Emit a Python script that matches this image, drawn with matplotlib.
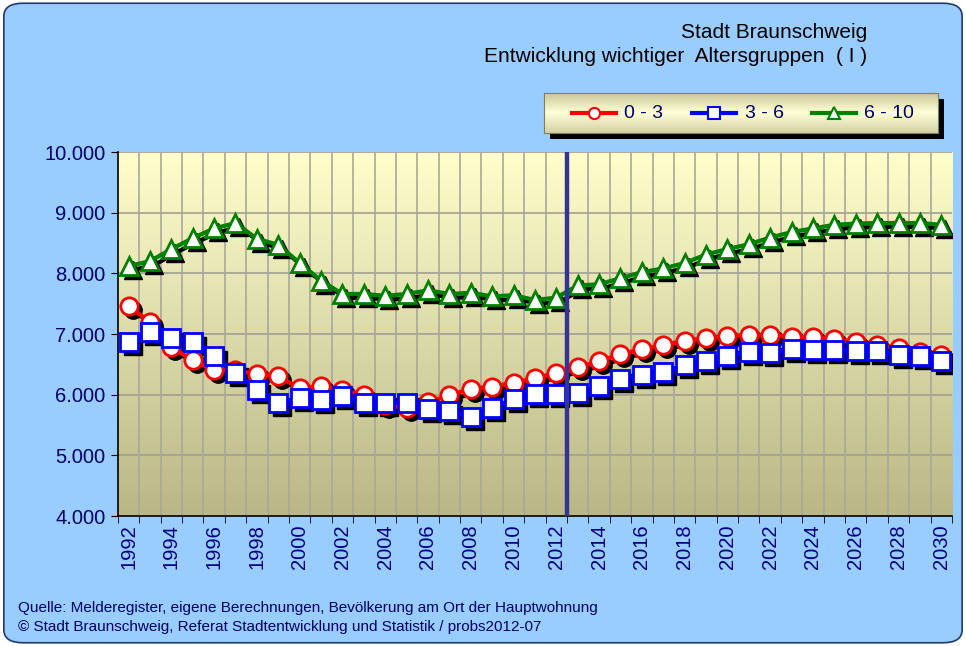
import numpy as np
import matplotlib
matplotlib.use("Agg")
import matplotlib.pyplot as plt
import matplotlib.transforms as mtransforms
from matplotlib.patches import FancyBboxPatch, Rectangle
from matplotlib.ticker import FuncFormatter, MultipleLocator
from matplotlib.lines import Line2D

plt.rcParams['font.family'] = ['Liberation Sans', 'DejaVu Sans']

years = list(range(1992, 2031))
age_0_3 = [7460, 7200, 6780, 6570, 6400, 6400, 6340, 6300, 6110, 6140,
           6070, 6000, 5830, 5780, 5880, 5990, 6100, 6130, 6200, 6270,
           6360, 6450, 6550, 6670, 6750, 6820, 6890, 6930, 6970, 6985,
           6985, 6950, 6950, 6910, 6870, 6820, 6770, 6700, 6650]
age_3_6 = [6870, 7030, 6930, 6870, 6640, 6360, 6070, 5860, 5950, 5920,
           5980, 5870, 5870, 5870, 5760, 5730, 5630, 5780, 5930, 6010,
           6010, 6020, 6140, 6260, 6320, 6380, 6490, 6550, 6640, 6700,
           6690, 6750, 6740, 6740, 6720, 6720, 6650, 6640, 6550]
age_6_10 = [8120, 8200, 8400, 8580, 8740, 8830, 8570, 8470, 8170, 7880,
            7660, 7660, 7630, 7660, 7720, 7660, 7680, 7620, 7640, 7560,
            7600, 7800, 7820, 7920, 8020, 8080, 8170, 8310, 8400, 8480,
            8590, 8680, 8740, 8800, 8820, 8830, 8830, 8830, 8800]
series = [("0 - 3", age_0_3, "#FF0000", "o"),
          ("3 - 6", age_3_6, "#0000FF", "s"),
          ("6 - 10", age_6_10, "#008000", "^")]

navy = "#000066"
fig = plt.figure(figsize=(9.66, 6.46), dpi=100)
fig.patch.set_facecolor("white")
# rounded light blue background
fig.patches.append(FancyBboxPatch((0.004, 0.005), 0.992, 0.99, boxstyle="round,pad=0,rounding_size=0.02",
                                  transform=fig.transFigure, facecolor="#99CCFF",
                                  edgecolor="#1F3A6E", linewidth=1.2, zorder=-10))

ax = fig.add_axes([0.122, 0.2012, 0.8635, 0.5635])
ax.set_xlim(1991.5, 2030.5)
ax.set_ylim(4000, 10000)

# gradient background, light yellow at top
grad = np.linspace(0, 1, 256).reshape(-1, 1)
top = np.array([255, 255, 204]) / 255
bot = np.array([186, 182, 134]) / 255
img = top + (bot - top) * grad[:, :, None]
ax.imshow(img, extent=[1991.5, 2030.5, 4000, 10000], origin="upper", aspect="auto", zorder=0)

for y in range(5000, 10001, 1000):
    ax.axhline(y, color="#A0A090", lw=1.2, zorder=1)
for x in np.arange(1992.5, 2030.5, 1):
    ax.axvline(x, color="#A8A89A", lw=1.2, zorder=1)

ax.axvline(2012.5, color="#333399", lw=3.2, zorder=6)

shadow = mtransforms.offset_copy(ax.transData, fig=fig, x=4, y=-4, units="dots")
for name, vals, col, mk in series:
    ax.plot(years, vals, color="black", lw=3, marker=mk, ms=12.5, mfc="black",
            mec="black", transform=shadow, zorder=3)
for name, vals, col, mk in series:
    ax.plot(years, vals, color=col, lw=3, marker=mk, ms=12.5, mfc="white",
            mec=col, mew=2, zorder=4)

ax.yaxis.set_major_locator(MultipleLocator(1000))
ax.yaxis.set_major_formatter(FuncFormatter(lambda v, p: f"{int(v):,}".replace(",", ".")))
ax.set_xticks(years[::2])
ax.set_xticks(np.arange(1991.5, 2031, 1), minor=True)
ax.tick_params(axis="x", which="major", length=0, labelrotation=90, labelsize=14.5,
               labelcolor="#000080", pad=6)
ax.tick_params(axis="x", which="minor", length=5, color="black", direction="out")
ax.tick_params(axis="y", length=5, labelsize=14.5, labelcolor=navy, direction="out", pad=4)
for s in ["left", "bottom"]:
    ax.spines[s].set_color("black")
    ax.spines[s].set_linewidth(1.2)
for s in ["top", "right"]:
    ax.spines[s].set_visible(False)

fig.text(0.898, 0.950, "Stadt Braunschweig", ha="right", va="center", fontsize=15, color="black")
fig.text(0.898, 0.913, "Entwicklung wichtiger  Altersgruppen  ( I )", ha="right", va="center",
         fontsize=15, color="black")

# legend box with shadow
lx0, ly0, lw, lh = 544 / 966, 1 - 133 / 646, 394 / 966, 40 / 646
fig.patches.append(Rectangle((lx0 + 0.006, ly0 - 0.010), lw, lh, transform=fig.transFigure,
                             facecolor="black", edgecolor="none", zorder=-5))
lax = fig.add_axes([lx0, ly0, lw, lh])
lgrad = np.concatenate([np.linspace(0, 1, 64), np.linspace(1, 0.2, 64)]).reshape(-1, 1)
ltop = np.array([200, 196, 150]) / 255
lmid = np.array([255, 255, 215]) / 255
limg = ltop + (lmid - ltop) * lgrad[:, :, None]
lax.imshow(limg, extent=[0, 1, 0, 1], aspect="auto")
lax.set_xlim(0, 1)
lax.set_ylim(0, 1)
lax.set_xticks([])
lax.set_yticks([])
for s in lax.spines.values():
    s.set_color("#808060")
xs = [0.071, 0.376, 0.68]
for (name, vals, col, mk), x0 in zip(series, xs):
    lax.add_line(Line2D([x0, x0 + 0.112], [0.5, 0.5], color=col, lw=3))
    lax.plot([x0 + 0.056], [0.5], marker=mk, ms=8, mfc="white", mec=col, mew=1.5)
    lax.text(x0 + 0.133, 0.48, name, ha="left", va="center", fontsize=14, color=navy)

fig.text(0.019, 0.059, "Quelle: Melderegister, eigene Berechnungen, Bevölkerung am Ort der Hauptwohnung",
         fontsize=11, color=navy, va="center")
fig.text(0.019, 0.029, "© Stadt Braunschweig, Referat Stadtentwicklung und Statistik / probs2012-07",
         fontsize=11, color=navy, va="center")

fig.savefig("out.png", dpi=100)
